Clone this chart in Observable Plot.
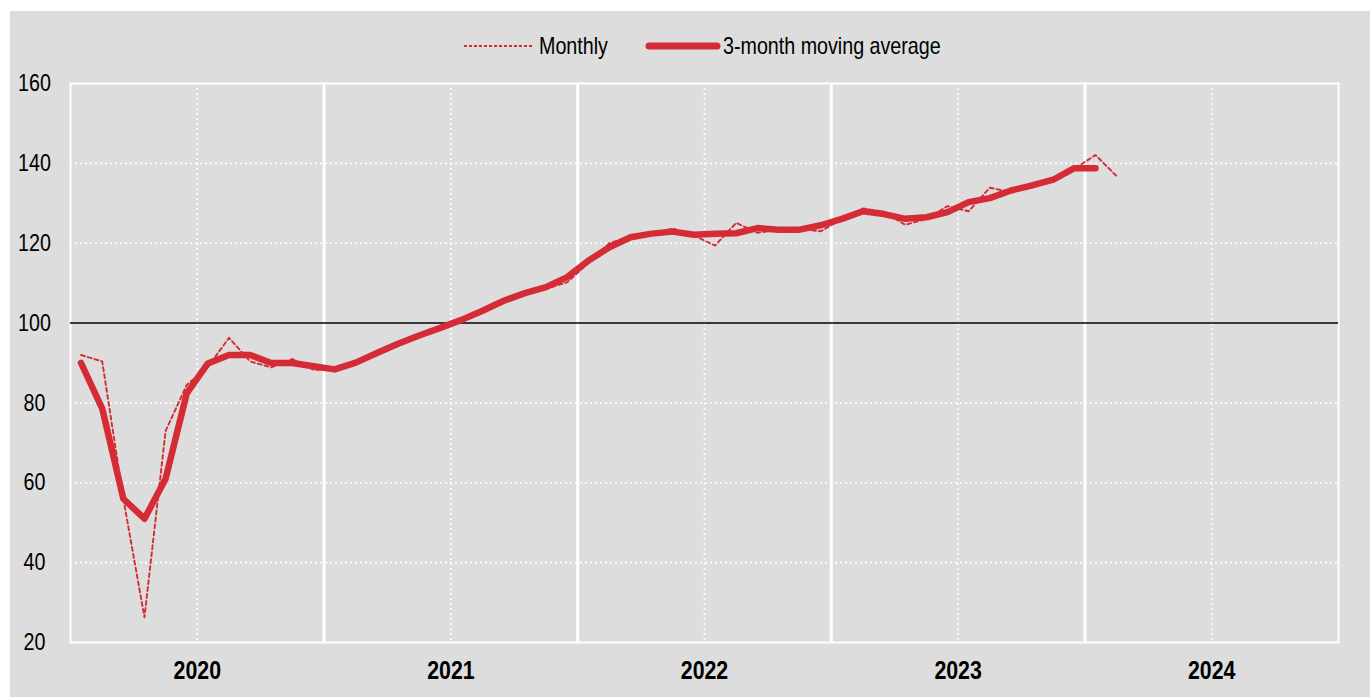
<!DOCTYPE html>
<html>
<head>
<meta charset="utf-8">
<script src="https://cdn.jsdelivr.net/npm/d3@7"></script>
<script src="https://cdn.jsdelivr.net/npm/@observablehq/plot@0.6"></script>
<style>
  html, body { margin: 0; padding: 0; background: #ffffff; }
  body { width: 1370px; height: 697px; position: relative; overflow: hidden;
         font-family: "Liberation Sans", Arial, sans-serif; }
  #bg { position: absolute; left: 10px; top: 11px; right: 0; bottom: 0; background: #dddddd; }
  #chart { position: absolute; left: 0; top: 0; }
  #legend { position: absolute; left: 463px; top: 32px; display: flex; align-items: center;
            font-size: 24px; color: #000; white-space: nowrap; }
  #legend .item { display: flex; align-items: center; }
  #legend svg { display: block; }
  #legend .lab { display: inline-block; transform: scaleX(0.82); transform-origin: left center; }
</style>
</head>
<body>
<div id="bg"></div>
<div id="chart"></div>
<div id="legend">
  <div class="item"><svg width="72" height="10"><line x1="1" y1="5" x2="71" y2="5" stroke="#d52b35" stroke-width="1.8" stroke-dasharray="3,2"/></svg><span class="lab" style="margin-left:4px">Monthly</span></div>
  <div class="item" style="margin-left:22px"><svg width="76" height="12"><line x1="4" y1="6" x2="72" y2="6" stroke="#d52b35" stroke-width="7" stroke-linecap="round"/></svg><span class="lab" style="margin-left:2px">3-month moving average</span></div>
</div>
<script>
// Series start: January 2020, one value per month
const startYear = 2020;
const monthly = [92, 90.4, 56, 26.3, 73, 84.5, 89, 96.3, 90.4, 88.9, 91, 88.3,
                 88.2, 90, 92.5, 94.8, 96.5, 99, 100.6, 103.3, 105.5, 107.6, 108.6, 110.2,
                 115, 120, 121.8, 122.4, 123.7, 121.9, 119.4, 125.1, 122.6, 123.4, 123.5, 123,
                 126, 128.7, 127.8, 124.6, 126.1, 129.3, 128, 133.9, 132.8, 133.9, 136, 138.6,
                 142.1, 136.8];
const movingAvg = [90, 78.6, 56, 51, 61, 82.4, 89.9, 92, 92, 90, 90, 89.2,
                   88.4, 90.1, 92.5, 94.8, 96.9, 98.8, 100.8, 103.1, 105.6, 107.5, 109, 111.5,
                   115.6, 119, 121.5, 122.4, 122.9, 122.1, 122.4, 122.5, 123.8, 123.4, 123.4, 124.5,
                   126.1, 128, 127.3, 126.1, 126.5, 127.8, 130.3, 131.3, 133.2, 134.5, 135.9, 138.8,
                   138.8];
const yearLabels = [2020, 2021, 2022, 2023, 2024];
const yearBounds = [2021, 2022, 2023, 2024];
const yTicks = [20, 40, 60, 80, 100, 120, 140, 160];
const yGrid = [40, 60, 80, 120, 140];
const baseline = 100;

const t = i => startYear + (i + 0.5) / 12;
const monthlyData = monthly.map((v, i) => ({t: t(i), v}));
const maData = movingAvg.map((v, i) => ({t: t(i), v}));
const midYears = yearLabels.map(y => y + 0.5);

const red = "#d52b35";
const font = '"Liberation Sans", Arial, sans-serif';

const chart = Plot.plot({
  width: 1370,
  height: 697,
  marginLeft: 70,
  marginRight: 32,
  marginTop: 83,
  marginBottom: 55,
  style: {background: "transparent", fontFamily: font, fontSize: "24px", color: "#000", overflow: "visible"},
  x: {type: "linear", domain: [yearLabels[0], yearLabels[yearLabels.length - 1] + 1]},
  y: {domain: [20, 160]},
  marks: [
    Plot.gridY(yGrid, {stroke: "#ffffff", strokeOpacity: 1, strokeWidth: 1.6, strokeDasharray: "2,3"}),
    Plot.ruleX(midYears, {stroke: "#ffffff", strokeWidth: 1.6, strokeDasharray: "2,3"}),
    Plot.ruleX(yearBounds, {stroke: "#ffffff", strokeWidth: 3}),
    Plot.frame({stroke: "#ffffff", strokeWidth: 2}),
    Plot.ruleY([baseline], {stroke: "#000000", strokeWidth: 1.6}),
    Plot.lineY(monthlyData, {x: "t", y: "v", stroke: red, strokeWidth: 1.9, strokeDasharray: "4,3"}),
    Plot.lineY(maData, {x: "t", y: "v", stroke: red, strokeWidth: 6.5, strokeLinecap: "round", strokeLinejoin: "round"}),
    Plot.axisY(yTicks, {tickSize: 0, tickPadding: 36, textAnchor: "middle", label: null, fontSize: 24}),
    Plot.axisX(midYears, {tickSize: 0, tickPadding: 18, tickFormat: d => String(Math.floor(d)), label: null, fontSize: 26, fontWeight: "bold"})
  ]
});
document.getElementById("chart").appendChild(chart);
// condense axis text horizontally (narrow face is not installed)
chart.querySelectorAll("text").forEach(el => {
  const len = el.getComputedTextLength();
  if (len > 0) {
    el.setAttribute("textLength", (len * 0.82).toFixed(1));
    el.setAttribute("lengthAdjust", "spacingAndGlyphs");
  }
});
</script>
</body>
</html>
